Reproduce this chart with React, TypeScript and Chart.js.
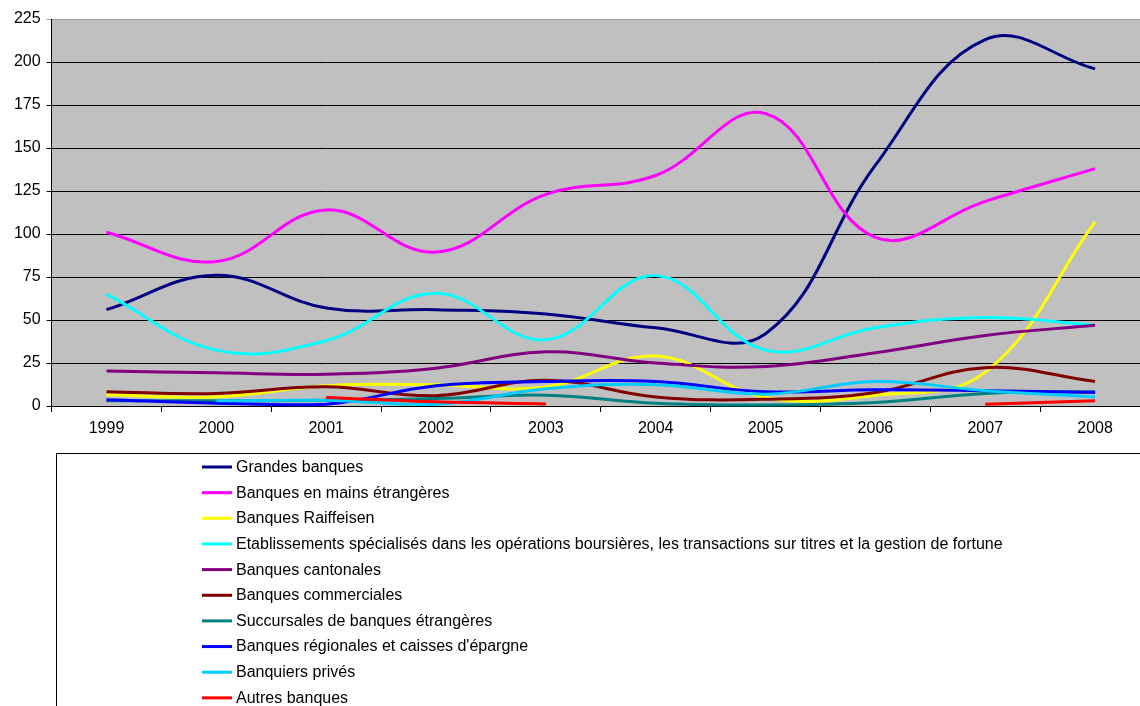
import React, { useEffect, useRef } from "react";
import { Chart, registerables } from "chart.js";

Chart.register(...registerables);

const years = ["1999", "2000", "2001", "2002", "2003", "2004", "2005", "2006", "2007", "2008"];
const yTicks = [0, 25, 50, 75, 100, 125, 150, 175, 200, 225];

const grandesBanques = [56, 76, 57, 56, 53.5, 45.5, 42, 140, 213, 196];
const banquesEtrangeres = [101, 84, 114, 89.5, 123, 134, 170, 98, 119, 138];
const raiffeisen = [6.5, 5.3, 11.8, 12.4, 11, 29, 4.9, 6.3, 19.7, 107];
const etablissements = [65, 32.5, 38, 65.5, 38.5, 75.8, 32.5, 45.5, 51.5, 47];
const cantonales = [20.3, 19.3, 18.5, 22, 31.5, 25, 23, 31, 41, 47];
const commerciales = [8.3, 7.3, 11.2, 6, 15, 5.3, 3.9, 7.9, 22.3, 14.2];
const succursales = [3.1, 3, 3.3, 4.3, 6.3, 1.6, 0.6, 2, 7.3, 8.5];
const regionales = [3.7, 1.6, 1, 11.8, 14.2, 14.2, 8.3, 9.4, 8.9, 7.9];
const prives = [null, 3, 3.3, 1, 10, 12.4, 6.9, 14.2, 8.9, 5.3];
const autres = [null, null, 5, 2.4, 1.2, null, null, null, 1, 3];

const seriesNames = [
  "Grandes banques",
  "Banques en mains étrangères",
  "Banques Raiffeisen",
  "Etablissements spécialisés dans les opérations boursières, les transactions sur titres et la gestion de fortune",
  "Banques cantonales",
  "Banques commerciales",
  "Succursales de banques étrangères",
  "Banques régionales et caisses d'épargne",
  "Banquiers privés",
  "Autres banques",
];
const seriesData = [
  grandesBanques,
  banquesEtrangeres,
  raiffeisen,
  etablissements,
  cantonales,
  commerciales,
  succursales,
  regionales,
  prives,
  autres,
];
const seriesColors = [
  "#000080",
  "#FF00FF",
  "#FFFF00",
  "#00FFFF",
  "#800080",
  "#800000",
  "#008080",
  "#0000FF",
  "#00CCFF",
  "#FF0000",
];

const FONT = '"Liberation Sans", Arial, sans-serif';
const FONT_SIZE = 16;

export default function App() {
  const ref = useRef<HTMLCanvasElement | null>(null);

  useEffect(() => {
    if (!ref.current) return;

    const bgPlugin = {
      id: "plotBg",
      beforeDraw(chart: any) {
        const { ctx, chartArea } = chart;
        ctx.save();
        ctx.fillStyle = "#C0C0C0";
        ctx.fillRect(chartArea.left, chartArea.top, chartArea.right - chartArea.left, chartArea.bottom - chartArea.top);
        ctx.restore();
      },
    };

    const legendPlugin = {
      id: "boxLegend",
      afterDraw(chart: any) {
        const ctx = chart.ctx;
        ctx.save();
        ctx.strokeStyle = "#000";
        ctx.lineWidth = 1;
        ctx.strokeRect(56.5, 453.5, 1300, 400);
        ctx.font = `${FONT_SIZE}px ${FONT}`;
        ctx.textBaseline = "middle";
        ctx.textAlign = "left";
        chart.data.datasets.forEach((ds: any, i: number) => {
          const y = 467 + i * 25.65;
          ctx.strokeStyle = ds.borderColor;
          ctx.lineWidth = 3;
          ctx.beginPath();
          ctx.moveTo(202, y);
          ctx.lineTo(232, y);
          ctx.stroke();
          ctx.fillStyle = "#000";
          ctx.fillText(ds.label, 236, y + 0.5);
        });
        ctx.restore();
      },
    };

    const chart = new Chart(ref.current, {
      type: "line",
      data: {
        labels: years,
        datasets: seriesNames.map((name, i) => ({
          label: name,
          data: seriesData[i],
          borderColor: seriesColors[i],
          backgroundColor: seriesColors[i],
          borderWidth: 3,
          pointRadius: 0,
          tension: 0.4,
          spanGaps: false,
          fill: false,
          clip: false,
          order: 20 - i,
        })),
      },
      options: {
        animation: false,
        responsive: false,
        maintainAspectRatio: false,
        layout: { padding: { left: 0, top: 19, right: 0, bottom: 0 } },
        plugins: {
          legend: { display: false },
          tooltip: { enabled: false },
          title: { display: false },
        },
        scales: {
          x: {
            type: "category",
            offset: true,
            grid: {
              display: true,
              drawOnChartArea: false,
              drawTicks: true,
              tickLength: 6,
              offset: true,
              color: "#000",
            },
            border: { display: true, color: "#000", width: 1 },
            ticks: {
              color: "#000",
              font: { family: FONT, size: FONT_SIZE },
              padding: 7,
              maxRotation: 0,
              autoSkip: false,
            },
            afterFit(s: any) {
              s.height = 300;
            },
          },
          y: {
            min: 0,
            max: 225,
            afterBuildTicks(s: any) {
              s.ticks = yTicks.map((v) => ({ value: v }));
            },
            grid: {
              display: true,
              drawOnChartArea: true,
              drawTicks: true,
              tickLength: 5,
              color: (c: any) => (c.tick && c.tick.value === 225 ? "#9a9a9a" : "#000"),
              lineWidth: 1,
            },
            border: { display: true, color: "#000", width: 1 },
            ticks: {
              color: "#000",
              font: { family: FONT, size: FONT_SIZE },
              padding: 6,
            },
            afterFit(s: any) {
              s.width = 51.6;
            },
          },
        },
      },
      plugins: [bgPlugin, legendPlugin],
    });

    return () => chart.destroy();
  }, []);

  return (
    <div
      style={{
        position: "fixed",
        left: 0,
        top: 0,
        width: 1140,
        height: 706,
        overflow: "hidden",
        background: "#fff",
      }}
    >
      <canvas ref={ref} width={1150} height={706} style={{ display: "block", width: 1150, height: 706 }} />
    </div>
  );
}
